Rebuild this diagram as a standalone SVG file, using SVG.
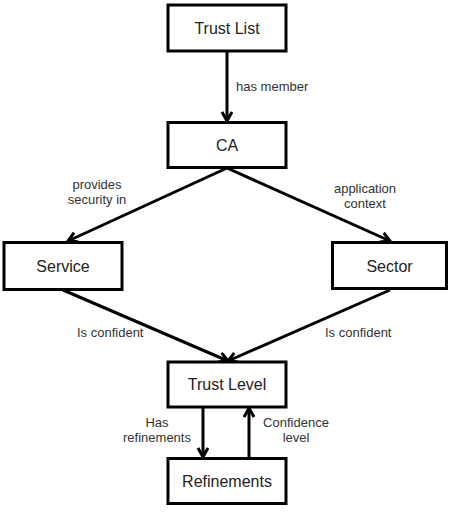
<svg xmlns="http://www.w3.org/2000/svg" width="451" height="516" viewBox="0 0 451 516">
<style>
.box{fill:#fff;stroke:#000;stroke-width:3}
.lbl{font-family:"Liberation Sans",Arial,sans-serif;font-size:16px;fill:#222;text-anchor:middle}
.el{font-family:"Liberation Sans",Arial,sans-serif;font-size:13px;fill:#333}
.mid{text-anchor:middle}
.edge{stroke:#000;stroke-width:3;fill:none;marker-end:url(#arr)}
</style>
<defs>
<marker id="arr" markerUnits="userSpaceOnUse" markerWidth="14" markerHeight="14" refX="10" refY="6" orient="auto">
<path d="M1,1 L10,6 L1,11" fill="none" stroke="#000" stroke-width="3"/>
</marker>
</defs>
<rect width="451" height="516" fill="#fff"/>
<g id="connectors">
<line class="edge" x1="227" y1="52" x2="227" y2="121"/>
<line class="edge" x1="227" y1="168" x2="68" y2="241"/>
<line class="edge" x1="227" y1="168" x2="390" y2="241"/>
<line class="edge" x1="63" y1="290" x2="228" y2="361"/>
<line class="edge" x1="390" y1="290" x2="228" y2="361"/>
<line class="edge" x1="203" y1="407" x2="203" y2="457"/>
<line class="edge" x1="249" y1="458" x2="249" y2="408"/>
<text class="el" x="236" y="91">has member</text>
<text class="el mid" x="97" y="189">provides</text>
<text class="el mid" x="97" y="204">security in</text>
<text class="el mid" x="365" y="193">application</text>
<text class="el mid" x="365" y="208">context</text>
<text class="el" x="77" y="337">Is confident</text>
<text class="el" x="325" y="337">Is confident</text>
<text class="el mid" x="157" y="427">Has</text>
<text class="el mid" x="157" y="442">refinements</text>
<text class="el mid" x="296" y="427">Confidence</text>
<text class="el mid" x="296" y="442">level</text>
</g>
<g id="trust-list"><rect class="box" x="168" y="5" width="118" height="46"/><text class="lbl" x="227" y="34">Trust List</text></g>
<g id="ca"><rect class="box" x="168" y="122.5" width="118" height="45"/><text class="lbl" x="227" y="151">CA</text></g>
<g id="service"><rect class="box" x="4" y="242.5" width="118" height="47"/><text class="lbl" x="63" y="272">Service</text></g>
<g id="sector"><rect class="box" x="332.5" y="242.5" width="114" height="46"/><text class="lbl" x="389.5" y="272">Sector</text></g>
<g id="trust-level"><rect class="box" x="168" y="362" width="118" height="45"/><text class="lbl" x="227" y="390">Trust Level</text></g>
<g id="refinements"><rect class="box" x="168" y="458.5" width="118" height="45"/><text class="lbl" x="227" y="487">Refinements</text></g>
</svg>
